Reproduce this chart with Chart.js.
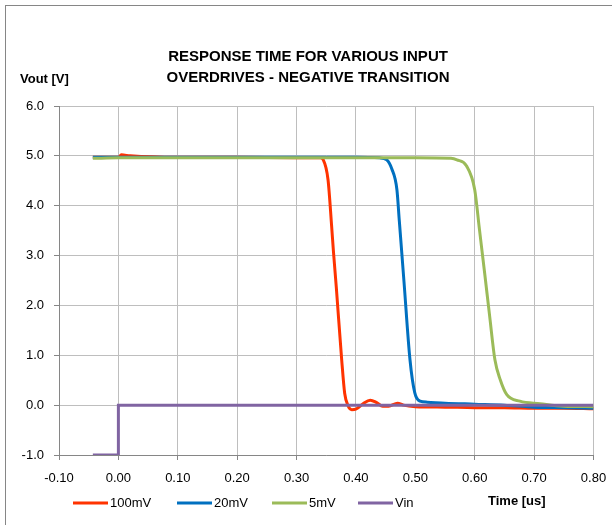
<!DOCTYPE html>
<html lang="en">
<head>
<meta charset="UTF-8">
<title>Response time</title>
<script src="https://cdn.jsdelivr.net/npm/chart.js"></script>
<style>
  html, body { margin: 0; padding: 0; background: #fff; }
  #wrap { width: 612px; height: 525px; }
</style>
</head>
<body>
<div id="wrap"><canvas id="respChart" width="612" height="525"></canvas></div>
<script>
// time in us, voltage in V
const t100 = [-0.043, 0.0, 0.005, 0.02, 0.1, 0.2, 0.3, 0.34, 0.345, 0.353, 0.359, 0.362, 0.367, 0.376, 0.381, 0.387, 0.393, 0.40, 0.412, 0.424, 0.435, 0.445, 0.455, 0.47, 0.48, 0.50, 0.55, 0.60, 0.65, 0.70, 0.75, 0.80];
const v100 = [4.97, 4.97, 5.02, 5.0, 4.97, 4.97, 4.96, 4.96, 4.92, 4.52, 3.6, 3.1, 2.35, 0.91, 0.24, -0.02, -0.09, -0.08, 0.03, 0.1, 0.05, -0.02, -0.02, 0.04, 0.0, -0.03, -0.04, -0.05, -0.05, -0.06, -0.06, -0.07];

const t20 = [-0.043, 0.1, 0.2, 0.3, 0.4, 0.44, 0.452, 0.46, 0.469, 0.473, 0.481, 0.491, 0.499, 0.508, 0.52, 0.55, 0.60, 0.65, 0.70, 0.75, 0.80];
const v20 = [4.97, 4.97, 4.97, 4.97, 4.97, 4.96, 4.92, 4.75, 4.32, 3.7, 2.46, 0.91, 0.25, 0.08, 0.06, 0.04, 0.02, 0.0, -0.04, -0.05, -0.06];

const t5 = [-0.043, 0.0, 0.1, 0.2, 0.3, 0.4, 0.5, 0.56, 0.57, 0.586, 0.600, 0.608, 0.617, 0.625, 0.634, 0.643, 0.654, 0.676, 0.710, 0.75, 0.80];
const v5 = [4.95, 4.96, 4.96, 4.96, 4.96, 4.96, 4.96, 4.95, 4.92, 4.8, 4.32, 3.52, 2.62, 1.8, 0.91, 0.51, 0.21, 0.08, 0.03, -0.02, -0.03];

const tVin = [-0.043, 0.0, 0.0, 0.8];
const vVin = [-1, -1, 0, 0];

const seriesNames = ['100mV', '20mV', '5mV', 'Vin'];
const seriesColors = ['#FF3300', '#0070C0', '#9BBB59', '#8064A2'];

const xTicks = { min: -0.1, max: 0.8, step: 0.1 };
const yTicks = { min: -1, max: 6, step: 1 };

function pts(ts, vs) {
    return ts.map((t, i) => ({ x: t, y: vs[i] }));
}

const allT = [t100, t20, t5, tVin];
const allV = [v100, v20, v5, vVin];
const drawOrder = [3, 2, 1, 0]; // Vin on top, then 5mV...

const datasets = seriesNames.map((name, i) => ({
    label: name,
    data: pts(allT[i], allV[i]),
    borderColor: seriesColors[i],
    backgroundColor: seriesColors[i],
    borderWidth: 3,
    pointRadius: 0,
    showLine: true,
    cubicInterpolationMode: name === 'Vin' ? 'default' : 'monotone',
    tension: name === 'Vin' ? 0 : 0.4,
    order: drawOrder[i]
}));

const FONT = '"Liberation Sans", Arial, sans-serif';

// title, axis captions, legend and outer frame
const decor = {
    id: 'decor',
    beforeDraw(chart) {
        const c = chart.ctx;
        c.save();
        c.fillStyle = '#fff';
        c.fillRect(0, 0, chart.width, chart.height);
        c.strokeStyle = '#868686';
        c.lineWidth = 1;
        c.strokeRect(5.5, 5.5, 640, 560);
        c.restore();
    },
    afterDraw(chart) {
        const c = chart.ctx;
        c.save();
        c.fillStyle = '#000';
        c.textBaseline = 'middle';
        c.textAlign = 'center';
        c.font = 'bold 15px ' + FONT;
        c.fillText('RESPONSE TIME FOR VARIOUS INPUT', 308, 57);
        c.fillText('OVERDRIVES - NEGATIVE TRANSITION', 308, 78);

        c.font = 'bold 13px ' + FONT;
        c.textAlign = 'left';
        c.fillText('Vout [V]', 20, 79);
        c.fillText('Time [us]', 488, 501);

        // legend
        c.font = '13px ' + FONT;
        const lx = [73, 177, 272, 358];
        chart.data.datasets.forEach((ds, i) => {
            c.strokeStyle = ds.borderColor;
            c.lineWidth = 3;
            c.beginPath();
            c.moveTo(lx[i], 503);
            c.lineTo(lx[i] + 35, 503);
            c.stroke();
            c.fillStyle = '#000';
            c.fillText(ds.label, lx[i] + 37, 503);
        });
        c.restore();
    }
};

new Chart(document.getElementById('respChart'), {
    type: 'scatter',
    data: { datasets: datasets },
    options: {
        responsive: false,
        animation: false,
        layout: { padding: { left: 0, top: 106, right: 18.5, bottom: 38 } },
        plugins: {
            legend: { display: false },
            title: { display: false },
            tooltip: { enabled: false }
        },
        scales: {
            x: {
                type: 'linear',
                min: xTicks.min,
                max: xTicks.max,
                afterFit(scale) {
                    scale.height = 32;
                    scale.paddingLeft = 0;
                    scale.paddingRight = 0;
                },
                ticks: {
                    stepSize: xTicks.step,
                    padding: 11,
                    color: '#000',
                    font: { family: FONT, size: 13 },
                    callback: v => v.toFixed(2)
                },
                grid: { color: '#BEBEBE', tickLength: 5, tickColor: '#868686' },
                border: { color: '#868686' }
            },
            y: {
                type: 'linear',
                min: yTicks.min,
                max: yTicks.max,
                afterFit(scale) {
                    scale.width = 59;
                    scale.paddingTop = 0;
                    scale.paddingBottom = 0;
                },
                ticks: {
                    stepSize: yTicks.step,
                    padding: 10,
                    color: '#000',
                    font: { family: FONT, size: 13 },
                    callback: v => v.toFixed(1)
                },
                grid: { color: '#BEBEBE', tickLength: 5, tickColor: '#868686' },
                border: { color: '#868686' }
            }
        }
    },
    plugins: [decor]
});
</script>
</body>
</html>
